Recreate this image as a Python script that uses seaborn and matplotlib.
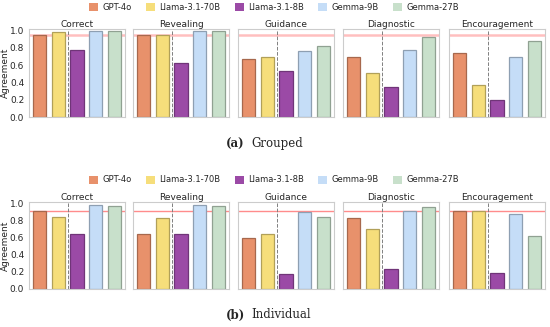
import numpy as np
import pandas as pd
import matplotlib
matplotlib.use("Agg")
import matplotlib.pyplot as plt
import matplotlib.colors as mcolors
from matplotlib.patches import Patch
import seaborn as sns

models = ["GPT-4o", "Llama-3.1-70B", "Llama-3.1-8B", "Gemma-9B", "Gemma-27B"]
categories = ["Correct", "Revealing", "Guidance", "Diagnostic", "Encouragement"]
colors = ["#E8916B", "#F6DE7B", "#9B4AA6", "#C5DDF7", "#C8E0CB"]

# values read per category, in model order
grouped = {
    "Correct":       [0.95, 0.99, 0.78, 1.00, 1.00],
    "Revealing":     [0.95, 0.95, 0.63, 1.00, 1.00],
    "Guidance":      [0.67, 0.70, 0.53, 0.76, 0.82],
    "Diagnostic":    [0.69, 0.51, 0.35, 0.78, 0.93],
    "Encouragement": [0.74, 0.37, 0.20, 0.69, 0.88],
}
individual = {
    "Correct":       [0.92, 0.84, 0.65, 0.99, 0.97],
    "Revealing":     [0.65, 0.83, 0.645, 0.99, 0.97],
    "Guidance":      [0.60, 0.65, 0.175, 0.90, 0.84],
    "Diagnostic":    [0.83, 0.70, 0.24, 0.91, 0.96],
    "Encouragement": [0.92, 0.91, 0.19, 0.88, 0.62],
}
ref_grouped = 0.95
ref_individual = 0.92

sns.set_style("white")
plt.rcParams["font.family"] = ["DejaVu Sans"]

W, H = 550, 327
fig = plt.figure(figsize=(5.5, 3.27), dpi=100)

palette = dict(zip(models, colors))
edges = [tuple(np.array(mcolors.to_rgb(c)) * 0.72) for c in colors]
lefts = [29, 133, 238, 343, 449]


def draw_block(data, ref, top_px, bottom_px, legend_y, caption_y, tag, name, ref_lw, ref_alpha):
    for i, cat in enumerate(categories):
        ax = fig.add_axes([lefts[i] / W, 1 - bottom_px / H, 96 / W, (bottom_px - top_px) / H])
        df = pd.DataFrame({"model": models, "value": data[cat]})
        sns.barplot(data=df, x="model", y="value", hue="model", palette=palette,
                    order=models, hue_order=models, width=0.72, legend=False,
                    dodge=False, saturation=1, ax=ax)
        for p, ec in zip(ax.patches, edges):
            p.set_edgecolor(ec)
            p.set_linewidth(0.9)
        ax.axhline(ref, color="red", alpha=ref_alpha, lw=ref_lw, zorder=0.5)
        ax.axvline(1.5, color="gray", ls="--", lw=0.7)
        ax.set_ylim(0, 1.02)
        ax.set_xlim(-0.57, 4.57)
        ax.set_xticks([])
        ax.set_xlabel("")
        ax.set_ylabel("")
        ax.set_yticks(np.arange(0, 1.01, 0.2))
        ax.tick_params(axis="y", length=2, width=0.6, pad=1.5, labelsize=6.5, color="#999999")
        if i == 0:
            ax.set_ylabel("Agreement", fontsize=6.5)
            ax.yaxis.set_label_coords(-0.2, 0.5)
        else:
            ax.set_yticklabels([])
        ax.set_title(cat, fontsize=6.5, pad=1.5)
        for s in ax.spines.values():
            s.set_color("#cccccc")
            s.set_linewidth(0.8)

    handles = [Patch(facecolor=c, edgecolor="none") for c in colors]
    fig.legend(handles, models, loc="center", bbox_to_anchor=(274 / W, 1 - legend_y / H),
               ncol=5, frameon=False, fontsize=6, handlelength=1.1, handleheight=1.1,
               handletextpad=0.5, columnspacing=1.7, borderpad=0)
    fig.text(0.445, 1 - caption_y / H, tag, fontsize=8.5, family="DejaVu Serif",
             weight="bold", ha="right", va="center")
    fig.text(0.457, 1 - caption_y / H, name, fontsize=8.5, family="DejaVu Serif",
             ha="left", va="center")


draw_block(grouped, ref_grouped, 29, 117, 7, 144, "(a)", "Grouped", 1.8, 0.25)
draw_block(individual, ref_individual, 202, 289, 180, 315, "(b)", "Individual", 1.0, 0.45)

fig.savefig("out.png", dpi=100)
